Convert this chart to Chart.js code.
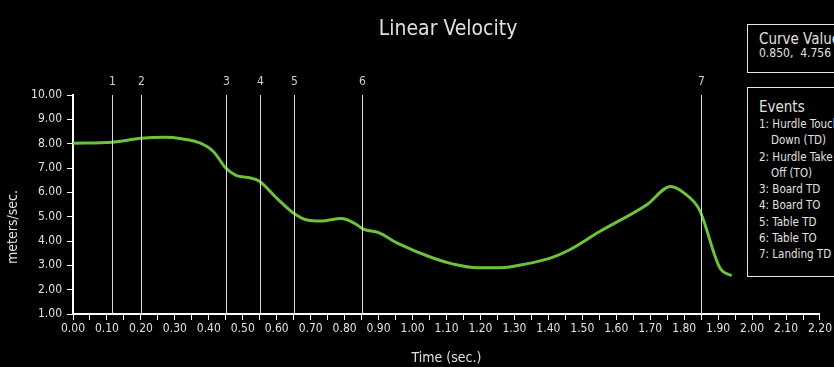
<!DOCTYPE html>
<html>
<head>
<meta charset="utf-8">
<script src="https://cdn.jsdelivr.net/npm/chart.js@4/dist/chart.umd.min.js"></script>
<style>
  html, body { margin:0; padding:0; background:#000; width:834px; height:367px; overflow:hidden; }
  body { position:relative; font-family:'Liberation Sans Narrow','DejaVu Sans Condensed','Roboto',sans-serif; color:#e0e0e0; }
  #wrap { position:absolute; left:0; top:0; width:834px; height:367px; }
  .box { position:absolute; border:1px solid #e6e6e6; box-sizing:border-box; background:#000; }
  #cv { left:747px; top:24px; width:120px; height:49px; padding:7px 0 0 11px; }
  #cv .h { font-size:15px; line-height:15px; }
  #cv .v { font-size:12px; line-height:13px; }
  #ev { left:747px; top:87px; width:120px; height:190px; padding:10px 0 0 11px; }
  #ev .h { font-size:15px; line-height:18px; }
  #ev .i { font-size:11.5px; line-height:16.3px; white-space:nowrap; }
  #ev .c { padding-left:12px; }
</style>
</head>
<body>
<div id="wrap"><canvas id="c" width="834" height="367"></canvas></div>
<div class="box" id="cv"><div class="h">Curve Value</div><div class="v">0.850,&nbsp; 4.756</div></div>
<div class="box" id="ev">
  <div class="h">Events</div>
  <div class="i">1: Hurdle Touch</div>
  <div class="i c">Down (TD)</div>
  <div class="i">2: Hurdle Take</div>
  <div class="i c">Off (TO)</div>
  <div class="i">3: Board TD</div>
  <div class="i">4: Board TO</div>
  <div class="i">5: Table TD</div>
  <div class="i">6: Table TO</div>
  <div class="i">7: Landing TD</div>
</div>
<script>
// ---- data ----
const timeValues = [0.00, 0.115, 0.20, 0.27, 0.32, 0.375, 0.414, 0.45, 0.48, 0.52, 0.55, 0.60, 0.65, 0.69, 0.73, 0.79, 0.83, 0.855, 0.90, 0.96, 1.06, 1.12, 1.19, 1.26, 1.335, 1.41, 1.46, 1.55, 1.69, 1.76, 1.80, 1.845, 1.905, 1.94];
const velocityValues = [8.02, 8.06, 8.22, 8.26, 8.20, 8.02, 7.67, 7.00, 6.70, 6.60, 6.45, 5.76, 5.14, 4.86, 4.82, 4.92, 4.72, 4.49, 4.34, 3.88, 3.30, 3.05, 2.90, 2.90, 3.06, 3.32, 3.62, 4.38, 5.49, 6.24, 5.97, 5.28, 2.90, 2.57];
const eventTimes = [0.115, 0.20, 0.45, 0.55, 0.65, 0.85, 1.85];
const eventLabels = ['1', '2', '3', '4', '5', '6', '7'];
const chartTitle = 'Linear Velocity';
const xTitle = 'Time (sec.)';
const yTitle = 'meters/sec.';

const FONT = "'Liberation Sans Narrow','DejaVu Sans Condensed','Roboto',sans-serif";
const TXT = '#e0e0e0';

const points = timeValues.map((t, i) => ({ x: t, y: velocityValues[i] }));

const overlay = {
  id: 'overlay',
  afterDatasetsDraw(chart) {
    const { ctx, chartArea, scales } = chart;
    ctx.save();
    // event lines
    ctx.strokeStyle = '#d8d8d8';
    ctx.lineWidth = 1;
    ctx.fillStyle = '#cfcfcf';
    ctx.font = '12px ' + FONT;
    ctx.textAlign = 'center';
    ctx.textBaseline = 'alphabetic';
    eventTimes.forEach((t, i) => {
      const x = Math.round(scales.x.getPixelForValue(t)) + 0.5;
      ctx.beginPath();
      ctx.moveTo(x, chartArea.top);
      ctx.lineTo(x, chartArea.bottom);
      ctx.stroke();
      ctx.fillText(eventLabels[i], x, chartArea.top - 10);
    });
    // title
    ctx.fillStyle = TXT;
    ctx.font = '21px ' + FONT;
    ctx.fillText(chartTitle, 448, 35);
    // y title
    ctx.translate(17, 227);
    ctx.rotate(-Math.PI / 2);
    ctx.font = '14px ' + FONT;
    ctx.fillText(yTitle, 0, 0);
    ctx.restore();
  },
  beforeDatasetsDraw(chart) {}
};

new Chart(document.getElementById('c'), {
  type: 'line',
  data: {
    datasets: [{
      data: points,
      borderColor: '#6cc23a',
      borderWidth: 3,
      pointRadius: 0,
      tension: 0.4,
      cubicInterpolationMode: 'monotone',
      fill: false
    }]
  },
  options: {
    responsive: false,
    animation: false,
    events: [],
    layout: { padding: { top: 95, right: 13, left: 0, bottom: 0 } },
    plugins: { legend: { display: false }, tooltip: { enabled: false }, title: { display: false } },
    scales: {
      x: {
        type: 'linear',
        min: 0, max: 2.2,
        afterFit(s) { s.height = 53; },
        grid: { drawOnChartArea: false, color: '#ffffff', tickLength: 6, tickColor: '#ffffff' },
        border: { color: '#ffffff', width: 2 },
        ticks: {
          stepSize: 0.05,
          autoSkip: false,
          maxRotation: 0,
          color: TXT,
          font: { family: FONT, size: 12 },
          padding: 2,
          callback(v) {
            const r = Math.round(v * 100);
            return r % 10 === 0 ? (r / 100).toFixed(2) : '';
          }
        },
        title: { display: true, text: xTitle, color: TXT, font: { family: FONT, size: 14 }, padding: { top: 8, bottom: 0 } }
      },
      y: {
        min: 1, max: 10,
        afterFit(s) { s.width = 73; },
        grid: { drawOnChartArea: false, color: '#ffffff', tickLength: 6, tickColor: '#ffffff' },
        border: { color: '#ffffff', width: 2 },
        ticks: {
          stepSize: 1,
          color: TXT,
          font: { family: FONT, size: 12 },
          padding: 5,
          callback(v) { return Number(v).toFixed(2); }
        }
      }
    }
  },
  plugins: [overlay]
});
</script>
</body>
</html>
